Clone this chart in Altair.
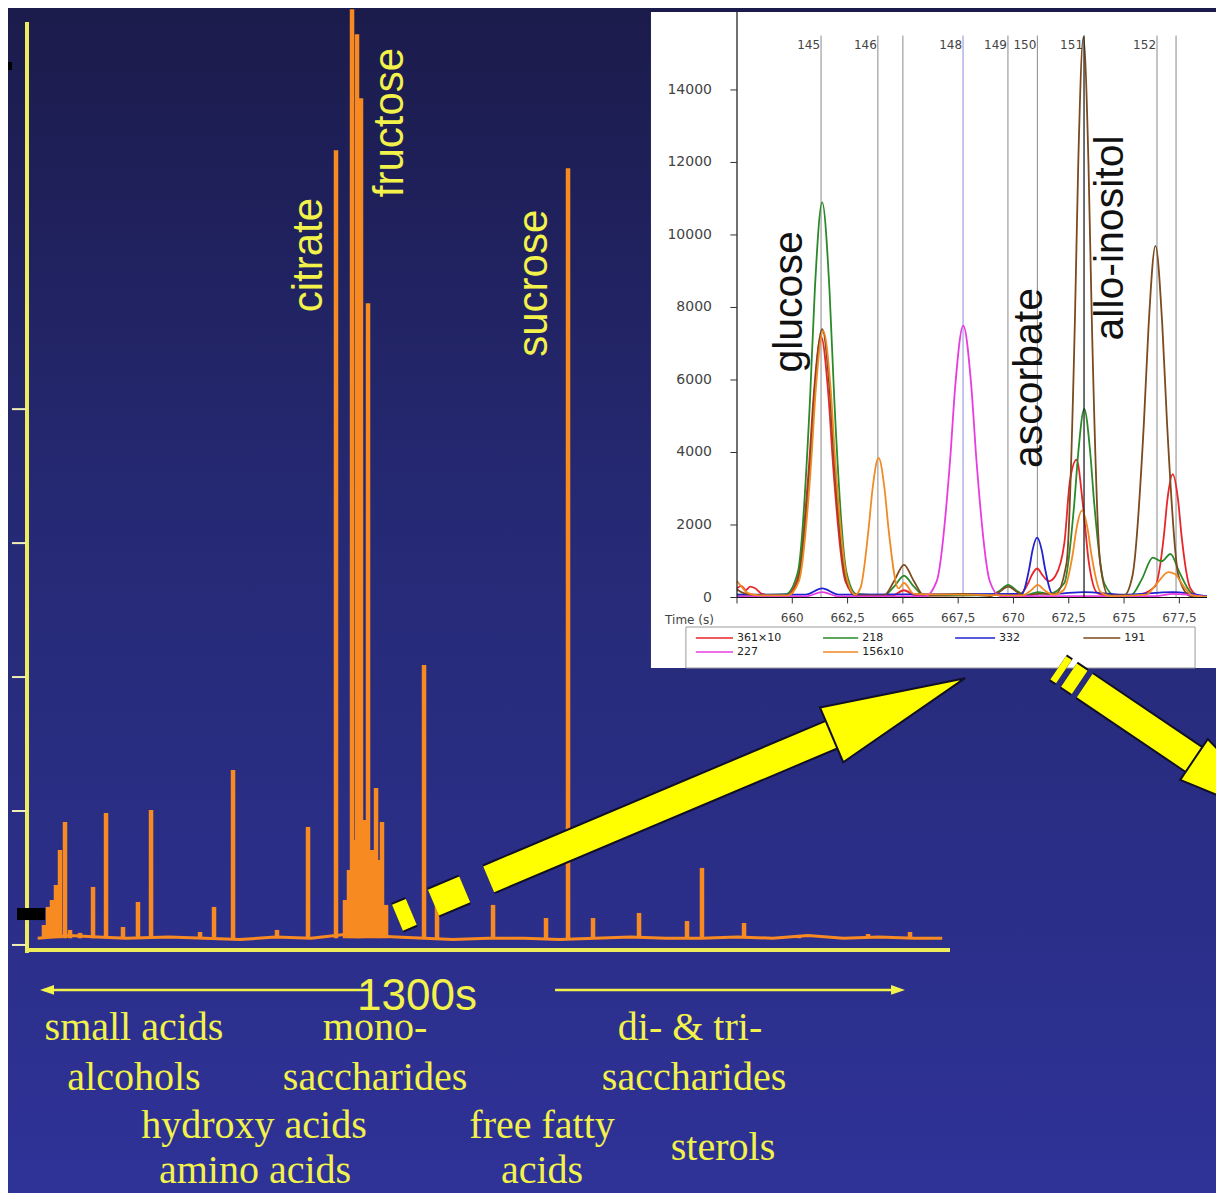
import altair as alt
import pandas as pd

W, H = 1208, 1185

# ---------------- colours ----------------
ORANGE = "#f88a22"
AX_YEL = "#ecec5c"
TXT_YEL = "#f2f24a"
ARROW_YEL = "#ffff00"

# ---------------- main chromatogram (retention time s, relative intensity) ----------------
peak_rt = [23.9, 29.6, 35.2, 40.8, 46.5, 53.5, 60.6, 74.7, 93.0, 111.3, 135.2, 156.3, 174.7,
           243.7, 263.4, 290.2, 352.1, 395.8, 435.2, 447.9, 453.5, 457.8, 462.0, 464.8, 467.6,
           470.4, 474.7, 480.3, 485.9, 491.6, 495.8, 500.0, 505.7, 559.2, 577.5, 656.4, 731.0,
           762.0, 797.2, 862.0, 929.6, 950.7, 1009.9, 1087.4, 1184.6, 1243.7]
peak_int = [0.149, 0.284, 0.336, 0.448, 0.709, 0.918, 0.112, 0.090, 0.433, 0.985, 0.134, 0.321, 1.007,
            0.097, 0.284, 1.306, 0.112, 0.881, 5.933, 0.336, 0.560, 6.985, 0.784, 6.799, 0.858,
            6.321, 0.933, 4.791, 0.709, 1.172, 0.634, 0.918, 0.299, 2.090, 0.410, 0.299, 0.201,
            5.799, 0.201, 0.239, 0.179, 0.575, 0.164, 0.075, 0.082, 0.097]
base_rt = [15, 60, 100, 140, 200, 250, 300, 350, 400, 450, 520, 560, 600, 650, 700, 750, 800,
           850, 900, 950, 1000, 1050, 1100, 1150, 1200, 1250, 1289]
base_int = [0.05, 0.07, 0.06, 0.05, 0.06, 0.05, 0.04, 0.06, 0.05, 0.08, 0.06, 0.05, 0.04, 0.05,
            0.05, 0.04, 0.05, 0.06, 0.05, 0.05, 0.06, 0.05, 0.07, 0.05, 0.06, 0.05, 0.05]
main_y_ticks = [0, 1, 2, 3, 4]

compound_names = ["citrate", "fructose", "sucrose"]
compound_rt = [397.2, 511.3, 714.1]
compound_int = [5.15, 6.14, 4.94]

class_names = ["small acids", "alcohols", "mono-", "saccharides", "hydroxy acids", "amino acids",
               "free fatty", "acids", "di- &  tri-", "saccharides", "sterols"]
class_rt = [150.7, 150.7, 490.2, 490.2, 319.7, 321.1, 725.4, 725.4, 933.8, 939.5, 980.3]
class_int = [-0.709, -1.083, -0.709, -1.083, -1.441, -1.78, -1.441, -1.78, -0.709, -1.083, -1.605]

# ---------------- inset: ion traces 657.5 - 678.75 s ----------------
series_names = ["361×10", "218", "332", "191", "227", "156x10"]
series_colors = ["#e8262a", "#2a8a2a", "#2222d2", "#7b4a1e", "#e83ce0", "#f08a24"]

trace_361 = [(657.5, 250), (657.7, 320), (657.9, 200), (658.1, 300), (658.3, 260), (658.6, 110),
             (659.0, 60), (659.7, 60), (660.2, 450), (660.75, 3600), (660.97, 5600), (661.3, 7200),
             (661.63, 5600), (661.85, 3600), (662.4, 450), (662.9, 50), (664.5, 50), (665.05, 200),
             (665.6, 50), (667.7, 60), (670.27, 80), (670.67, 400), (670.83, 620), (671.07, 800),
             (671.31, 620), (671.6, 450), (671.9, 600), (672.3, 1500), (672.55, 3200), (672.85, 3800),
             (673.15, 2500), (673.4, 1000), (673.8, 120), (674.3, 50), (675.5, 60), (676.4, 300),
             (676.8, 1700), (676.96, 2700), (677.2, 3400), (677.44, 2700), (677.6, 1700),
             (678.0, 250), (678.4, 40), (678.75, 20)]
trace_218 = [(657.5, 80), (658.5, 70), (659.7, 90), (660.25, 700), (660.8, 5450), (661.02, 8500),
             (661.35, 10900), (661.68, 8500), (661.9, 5450), (662.45, 700), (662.9, 100),
             (664.15, 60), (664.6, 300), (665.05, 600), (665.5, 300), (665.95, 60), (668.96, 60),
             (669.36, 180), (669.76, 350), (670.16, 180), (670.56, 60), (671.1, 150), (671.6, 100),
             (672.3, 400), (672.75, 2600), (672.93, 4000), (673.2, 5200), (673.47, 4000),
             (673.65, 2600), (674.1, 400), (674.6, 60), (675.3, 60), (675.8, 500), (676.3, 1100),
             (676.7, 1000), (677.1, 1200), (677.5, 700), (678.0, 150), (678.4, 30), (678.75, 20)]
trace_332 = [(657.5, 80), (660.6, 80), (661.35, 250), (662.1, 80), (670.37, 100), (670.72, 820),
             (670.86, 1300), (671.07, 1650), (671.28, 1300), (671.42, 820), (671.77, 100),
             (673.2, 150), (675.0, 80), (677.2, 150), (678.75, 30)]
trace_191 = [(657.5, 220), (657.8, 120), (658.5, 60), (659.8, 60), (660.25, 450), (660.8, 3700),
             (661.02, 5800), (661.35, 7400), (661.68, 5800), (661.9, 3700), (662.45, 450),
             (662.9, 60), (664.15, 60), (664.6, 450), (665.05, 900), (665.5, 450), (665.95, 60),
             (667.7, 100), (668.96, 40), (669.36, 150), (669.76, 300), (670.16, 150), (670.56, 40),
             (671.1, 100), (671.9, 100), (672.4, 950), (672.78, 7700), (672.93, 12000),
             (673.16, 15450), (673.39, 12000), (673.54, 7700), (673.92, 950), (674.3, 60),
             (675.0, 60), (675.38, 600), (675.9, 4850), (676.11, 7500), (676.42, 9700),
             (676.73, 7500), (676.94, 4850), (677.46, 600), (678.0, 40), (678.75, 20)]
trace_227 = [(657.5, 30), (660.6, 30), (661.35, 150), (662.1, 30), (666.0, 30), (666.53, 450),
             (667.13, 3750), (667.37, 5850), (667.73, 7500), (668.09, 5850), (668.33, 3750),
             (668.93, 450), (669.4, 40), (672.0, 40), (676.5, 40), (677.2, 100), (678.75, 20)]
trace_156 = [(657.5, 450), (657.7, 300), (658.0, 120), (658.5, 60), (659.8, 60), (660.3, 450),
             (660.85, 3700), (661.07, 5800), (661.4, 7350), (661.73, 5800), (661.95, 3700),
             (662.5, 450), (662.85, 80), (663.1, 300), (663.45, 1900), (663.63, 3000),
             (663.9, 3850), (664.17, 3000), (664.35, 1900), (664.8, 250), (665.05, 400),
             (665.5, 100), (667.7, 80), (670.4, 60), (670.8, 200), (671.1, 350), (671.4, 200),
             (671.8, 80), (672.26, 200), (672.68, 1200), (672.85, 1900), (673.1, 2400),
             (673.35, 1900), (673.52, 1200), (673.94, 150), (674.4, 40), (676.0, 80), (676.5, 400),
             (677.0, 700), (677.3, 650), (677.7, 300), (678.1, 60), (678.75, 20)]
traces = [trace_361, trace_218, trace_332, trace_191, trace_227, trace_156]

marker_rt = [661.30, 663.87, 665.00, 667.72, 669.75, 671.08, 673.19, 676.49, 677.35]
marker_labels = ["145", "146", "", "148", "149", "150", "151", "152", ""]

inset_names = ["glucose", "ascorbate", "allo-inositol"]
inset_name_rt = [659.90, 670.75, 674.41]
inset_name_int = [8152, 6055, 9917]

inset_y_ticks = [0, 2000, 4000, 6000, 8000, 10000, 12000, 14000]
inset_x_ticks = [657.5, 660, 662.5, 665, 667.5, 670, 672.5, 675, 677.5]

# ---------------- scales and annotation geometry (data units of each panel) ----------------
MX = alt.Scale(domain=[0, 1300], range=[19, 942], nice=False, zero=False)
MY = alt.Scale(domain=[-0.06, 6.89], range=[945, 14], nice=False, zero=False)
IX = alt.Scale(domain=[657.5, 678.75], range=[729, 1199], nice=False, zero=False)
IY = alt.Scale(domain=[0, 16150], range=[589.5, 4], nice=False, zero=False)

main_axis_lines = pd.DataFrame({"t0": [0, -1.4], "t1": [0, 1300],
                                "v0": [-0.06, -0.0376], "v1": [6.89, -0.0376]})
inset_axis_lines = pd.DataFrame({"t0": [657.5, 657.5], "t1": [657.5, 678.75],
                                 "v0": [0, 0], "v1": [16152, 0]})
span_layout = pd.DataFrame({"t0": [23.9, 743.7], "t1": [483.1, 1229.6], "v": [-0.336, -0.336],
                            "th": [28.2, 1226.8], "ang": [180, 0]})
junk_layout = pd.DataFrame({"t0": [-31.0, -14.1], "t1": [-21.1, 25.4],
                            "v0": [6.591, 0.276], "v1": [6.532, 0.186]})
arrow1 = pd.DataFrame({"t0": [521.8], "v0": [0.203], "t1": [1133.1], "v1": [1.570],
                       "th": [1227.2], "vh": [1.780]})
arrow2 = pd.DataFrame({"t0": [1452.3], "v0": [2.069], "t1": [1643.7], "v1": [1.384],
                       "th": [1713.7], "vh": [1.134]})
legend_layout = pd.DataFrame({
    "series": series_names,
    "t0": [655.64, 661.39, 667.36, 673.16, 655.64, 661.39],
    "t1": [657.32, 662.98, 669.17, 674.83, 657.32, 662.98],
    "v": [-1117, -1117, -1117, -1117, -1503, -1503]})
HEAD = "M1,0L-1,-0.41L-1,0.41Z"
SMALL_HEAD = "M1,0L-1,-0.7L-1,0.7Z"

# ---------------- helpers ----------------
def mx(f):
    return alt.X(f"{f}:Q", scale=MX, axis=None)

def my(f):
    return alt.Y(f"{f}:Q", scale=MY, axis=None)

def ix(f):
    return alt.X(f"{f}:Q", scale=IX, axis=None)

def iy(f):
    return alt.Y(f"{f}:Q", scale=IY, axis=None)

# ---------------- main panel ----------------
grad = alt.LinearGradient(
    gradient="linear",
    stops=[alt.GradientStop(color="#1b1b4b", offset=0),
           alt.GradientStop(color="#262a76", offset=0.45),
           alt.GradientStop(color="#2f3297", offset=1)],
    x1=0, x2=0, y1=0, y2=1)
bg = alt.Chart(pd.DataFrame({"k": [0]})).mark_rect(color=grad).encode(
    x=alt.value(0), x2=alt.value("width"), y=alt.value(0), y2=alt.value("height"))

base_df = pd.DataFrame({"rt": base_rt, "inten": base_int})
peaks_df = pd.DataFrame({"rt": peak_rt, "inten": peak_int, "floor": 0.05})

baseline = alt.Chart(base_df).mark_line(color=ORANGE, strokeWidth=3).encode(
    x=mx("rt"), y=my("inten"))
spikes = alt.Chart(peaks_df).mark_rule(color=ORANGE, strokeWidth=4.5).encode(
    x=mx("rt"), y=my("inten"), y2="floor:Q")

main_axes = alt.Chart(main_axis_lines).mark_rule(color=AX_YEL, strokeWidth=4).encode(
    x=mx("t0"), x2="t1:Q", y=my("v0"), y2="v1:Q")
main_tick_df = pd.DataFrame({"v": main_y_ticks, "t0": -21.1, "t1": -1.4})
main_ticks = alt.Chart(main_tick_df).mark_rule(color="#f0f0b4", strokeWidth=2).encode(
    x=mx("t0"), x2="t1:Q", y=my("v"))

comp_df = pd.DataFrame({"name": compound_names, "rt": compound_rt, "inten": compound_int})
comp_text = alt.Chart(comp_df).mark_text(angle=270, font="Liberation Sans", fontSize=42,
                                         color=TXT_YEL, align="center", baseline="middle").encode(
    x=mx("rt"), y=my("inten"), text="name:N")

class_df = pd.DataFrame({"name": class_names, "rt": class_rt, "inten": class_int})
class_text = alt.Chart(class_df).mark_text(font="Liberation Serif", fontSize=40, color=TXT_YEL,
                                           align="center", baseline="alphabetic").encode(
    x=mx("rt"), y=my("inten"), text="name:N")

dur_text = alt.Chart(pd.DataFrame({"s": ["1300s"], "rt": [549.3], "inten": [-0.388]})).mark_text(
    font="Liberation Sans", fontSize=44, color=TXT_YEL, align="center", baseline="middle").encode(
    x=mx("rt"), y=my("inten"), text="s:N")

span_rules = alt.Chart(span_layout).mark_rule(color=TXT_YEL, strokeWidth=2.5).encode(
    x=mx("t0"), x2="t1:Q", y=my("v"))
span_heads = alt.Chart(span_layout).mark_point(shape=SMALL_HEAD, filled=True, color=TXT_YEL,
                                               size=196, opacity=1).encode(
    x=mx("th"), y=my("v"), angle=alt.Angle("ang:Q", scale=None))

junk = alt.Chart(junk_layout).mark_rect(color="#000000").encode(
    x=mx("t0"), x2="t1:Q", y=my("v0"), y2="v1:Q")

main = alt.layer(bg, baseline, spikes, main_axes, main_ticks, comp_text, class_text,
                 span_rules, span_heads, dur_text, junk)

# ---------------- inset panel ----------------
rows = []
for name, tr in zip(series_names, traces):
    for t, v in tr:
        rows.append({"series": name, "t": t, "v": v})
trace_df = pd.DataFrame(rows)

series_color = alt.Color("series:N", scale=alt.Scale(domain=series_names, range=series_colors),
                         legend=None)

white = alt.Chart(pd.DataFrame({"t0": [653.61], "t1": [681.0], "v0": [-1945], "v1": [16152]})).mark_rect(
    color="#ffffff").encode(x=ix("t0"), x2="t1:Q", y=iy("v0"), y2="v1:Q")

mk_df = pd.DataFrame({"t": marker_rt, "lab": marker_labels, "top": 15500, "bot": 0, "ly": 15241})
mk_base = alt.Chart(mk_df).encode(x=ix("t"), y=iy("top"), y2="bot:Q")
mk_gray = mk_base.transform_filter("datum.lab != '148' && datum.lab != '151'").mark_rule(
    color="#8a8a8a", strokeWidth=1)
mk_blue = mk_base.transform_filter("datum.lab == '148'").mark_rule(color="#8c8ce0", strokeWidth=1)
mk_black = mk_base.transform_filter("datum.lab == '151'").mark_rule(color="#222222", strokeWidth=1.3)
mk_text = alt.Chart(mk_df).mark_text(font="DejaVu Sans", fontSize=12, color="#444444",
                                     align="right", baseline="middle", dx=-1).encode(
    x=ix("t"), y=iy("ly"), text="lab:N")

trace_lines = alt.Chart(trace_df).mark_line(strokeWidth=1.8, interpolate="monotone").encode(
    x=ix("t"), y=iy("v"), color=series_color, detail="series:N")

# inset axes drawn through the inset scales
ytick_df = pd.DataFrame({"v": inset_y_ticks, "lab": [str(v) for v in inset_y_ticks],
                         "t0": 657.2, "t1": 657.5})
xtick_df = pd.DataFrame({"t": inset_x_ticks,
                         "lab": ["" if t == 657.5 else f"{t:g}".replace(".", ",") for t in inset_x_ticks],
                         "v0": 0, "v1": -165})
inset_axes = alt.Chart(inset_axis_lines).mark_rule(color="#111111", strokeWidth=1.2).encode(
    x=ix("t0"), x2="t1:Q", y=iy("v0"), y2="v1:Q")
inset_yticks = alt.Chart(ytick_df).mark_rule(color="#333333", strokeWidth=1).encode(
    x=ix("t0"), x2="t1:Q", y=iy("v"))
inset_ylabels = alt.Chart(ytick_df).mark_text(font="DejaVu Sans", fontSize=14, color="#444444",
                                              align="right", baseline="middle", dx=-25).encode(
    x=ix("t1"), y=iy("v"), text="lab:N")
inset_xticks = alt.Chart(xtick_df).mark_rule(color="#333333", strokeWidth=1).encode(
    x=ix("t"), y=iy("v0"), y2="v1:Q")
inset_xlabels = alt.Chart(xtick_df).mark_text(font="DejaVu Sans", fontSize=12, color="#444444",
                                              align="center", baseline="top", dy=15).encode(
    x=ix("t"), y=iy("v0"), text="lab:N")

name_df = pd.DataFrame({"name": inset_names, "t": inset_name_rt, "v": inset_name_int})
name_text = alt.Chart(name_df).mark_text(angle=270, font="Liberation Sans", fontSize=41,
                                         color="#111111", align="center", baseline="middle").encode(
    x=ix("t"), y=iy("v"), text="name:N")

time_text = alt.Chart(pd.DataFrame({"s": ["Time (s)"], "t": [654.25], "v": [-621]})).mark_text(
    font="DejaVu Sans", fontSize=12, color="#444444", align="left", baseline="middle").encode(
    x=ix("t"), y=iy("v"), text="s:N")

leg_box = alt.Chart(pd.DataFrame({"t0": [655.19], "t1": [678.21], "v0": [-814], "v1": [-1945]})).mark_rect(
    filled=False, color="#9a9a9a", strokeWidth=1).encode(x=ix("t0"), x2="t1:Q", y=iy("v0"), y2="v1:Q")
leg_lines = alt.Chart(legend_layout).mark_rule(strokeWidth=1.5).encode(
    x=ix("t0"), x2="t1:Q", y=iy("v"), color=series_color)
leg_text = alt.Chart(legend_layout).mark_text(font="DejaVu Sans", fontSize=11, color="#222222",
                                              align="left", baseline="middle", dx=4).encode(
    x=ix("t1"), y=iy("v"), text="series:N")

inset = alt.layer(white, mk_gray, mk_blue, trace_lines, mk_black, mk_text, inset_axes,
                  inset_yticks, inset_ylabels, inset_xticks, inset_xlabels, name_text, time_text,
                  leg_box, leg_lines, leg_text)

# ---------------- big yellow arrows (main panel units) ----------------
def arrow_layers(df, dash, head_size, head_angle):
    outline = alt.Chart(df).mark_rule(color="#101028", strokeWidth=32, strokeDash=dash).encode(
        x=mx("t0"), x2="t1:Q", y=my("v0"), y2="v1:Q")
    shaft = alt.Chart(df).mark_rule(color=ARROW_YEL, strokeWidth=28, strokeDash=dash).encode(
        x=mx("t0"), x2="t1:Q", y=my("v0"), y2="v1:Q")
    head = alt.Chart(df).mark_point(shape=HEAD, filled=True, fill=ARROW_YEL, stroke="#101028",
                                    strokeWidth=2, size=head_size, angle=head_angle, opacity=1).encode(
        x=mx("th"), y=my("vh"))
    return [outline, shaft, head]

arrows = alt.layer(*arrow_layers(arrow1, [15, 24, 34, 26, 2000], 21025, 337),
                   *arrow_layers(arrow2, [7, 6, 13, 6, 2000], 14400, 34))

chart = alt.layer(main, inset, arrows).resolve_scale(x="independent", y="independent").properties(
    width=W, height=H, autosize=alt.AutoSizeParams(type="none"), padding=0
).configure_view(strokeWidth=0)

chart.save("out.html", embed_options={"renderer": "svg", "actions": False})
